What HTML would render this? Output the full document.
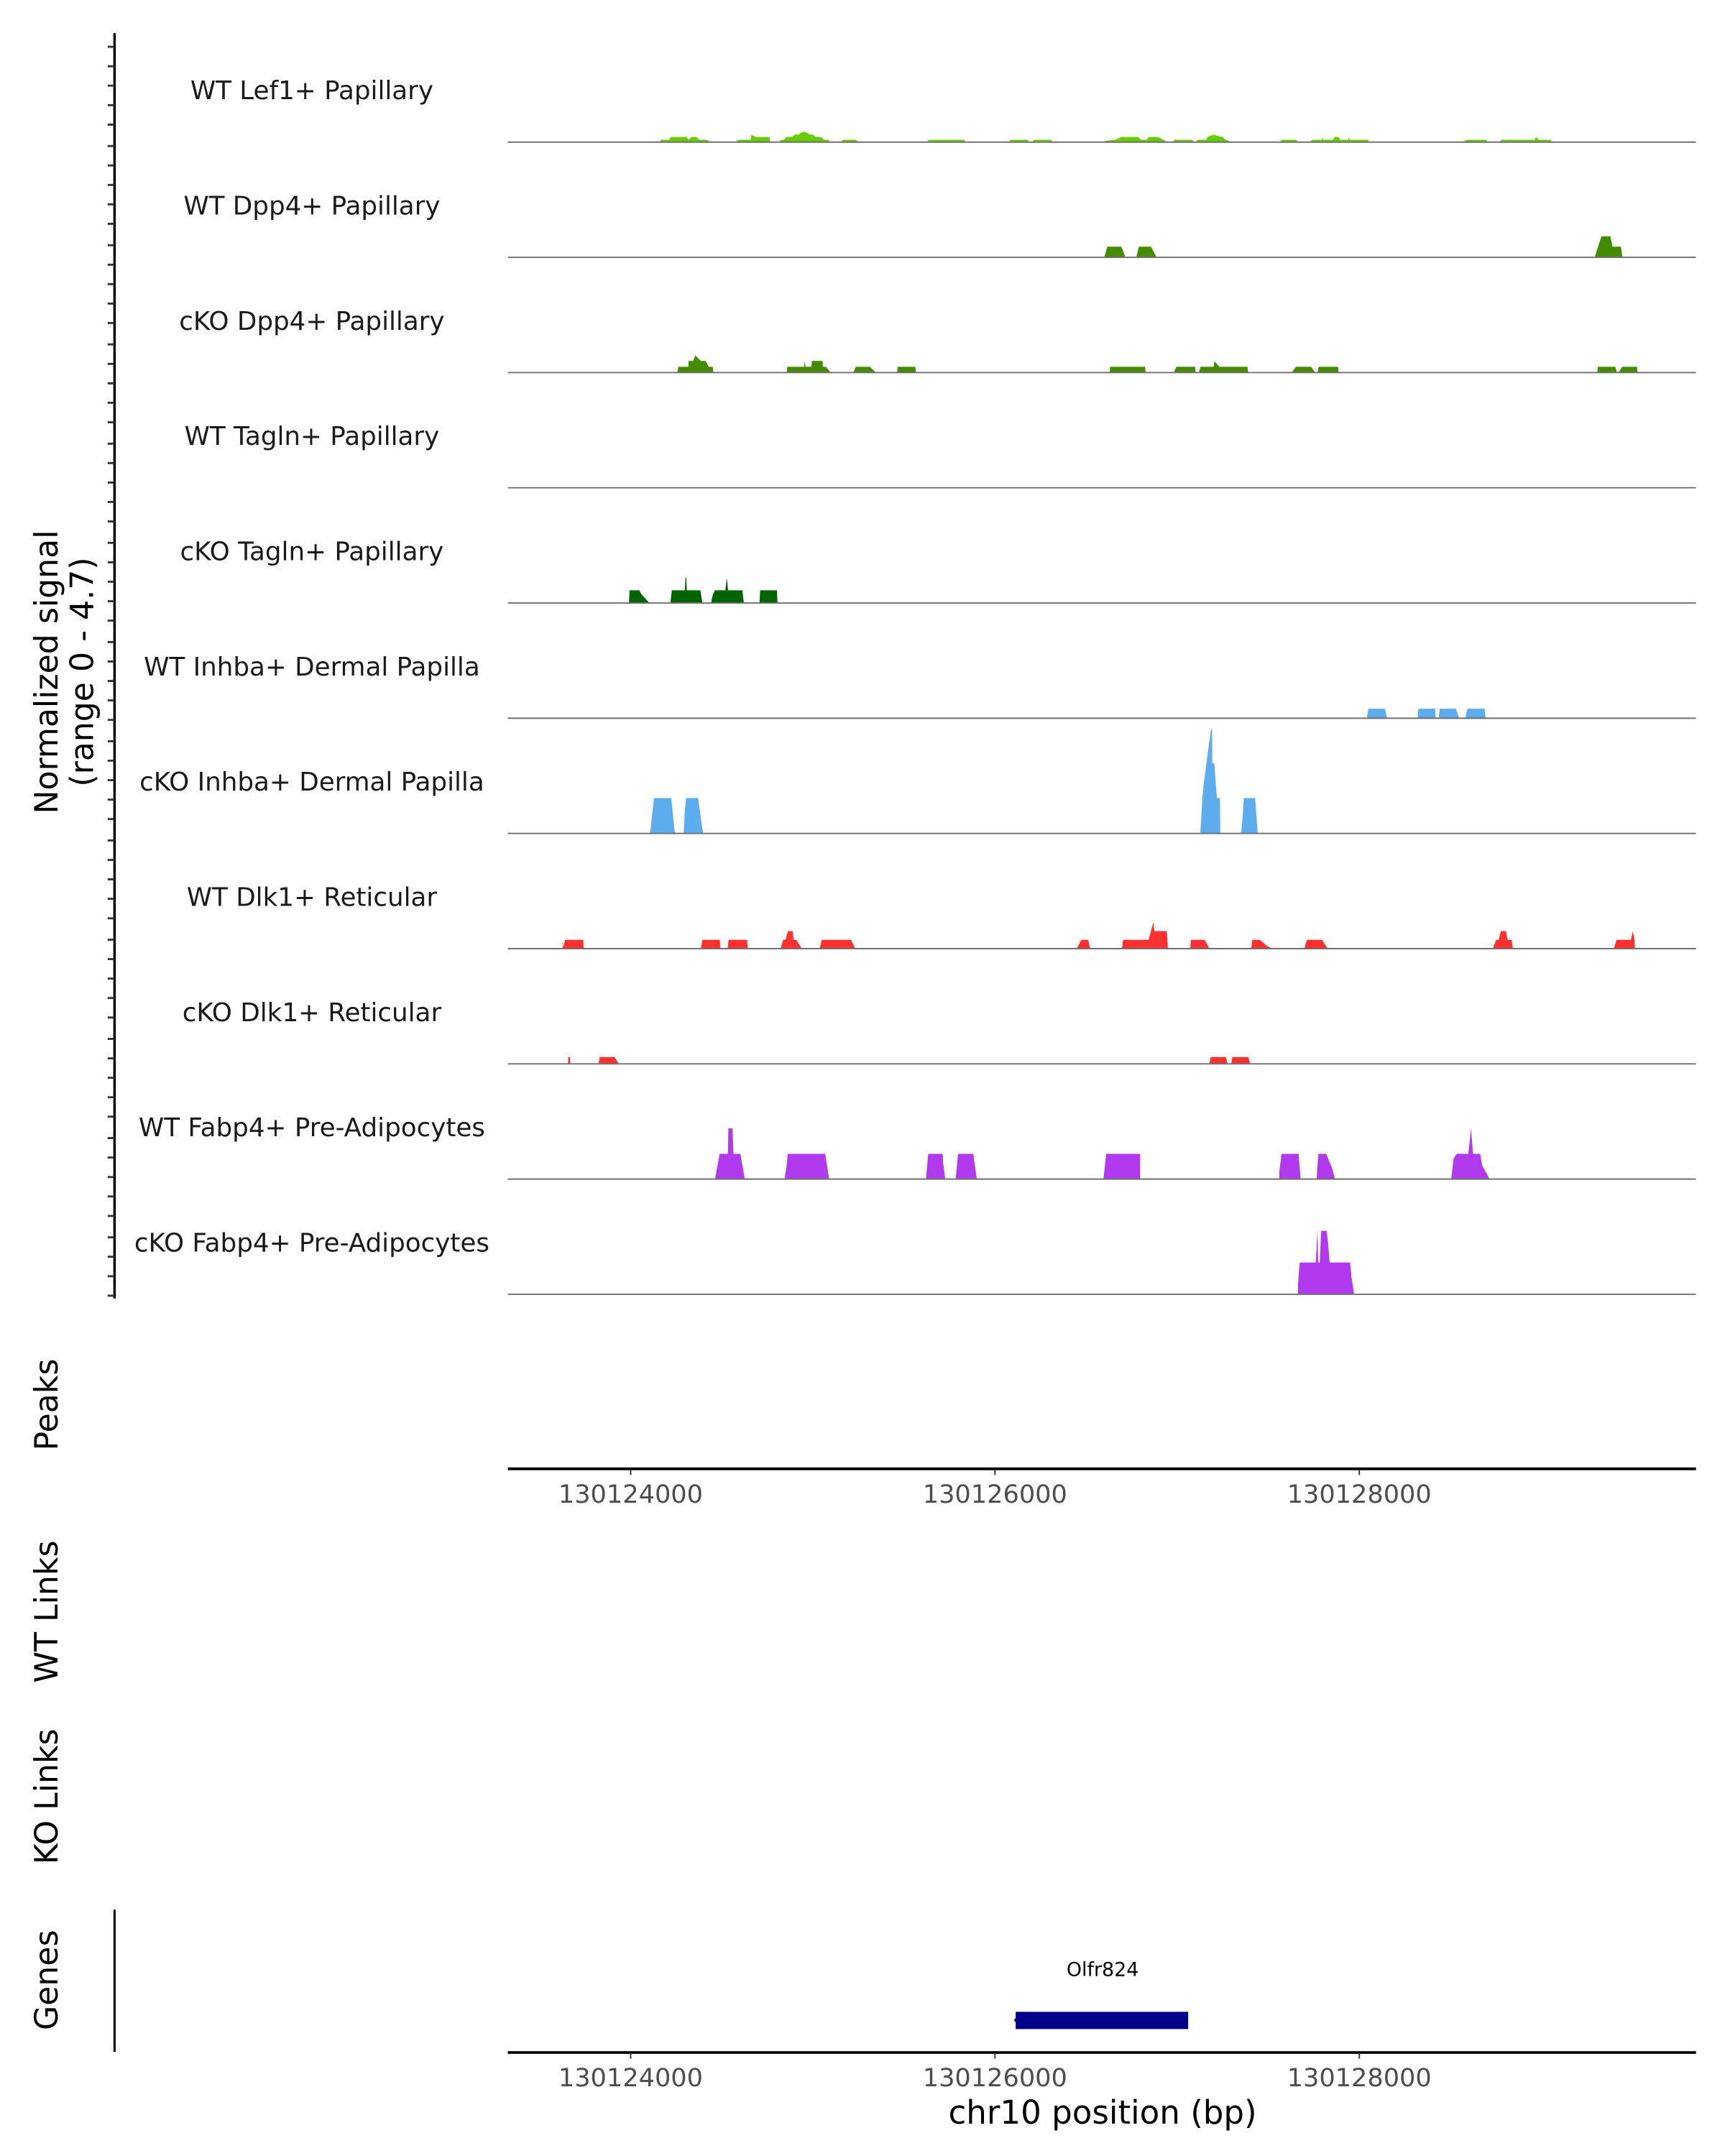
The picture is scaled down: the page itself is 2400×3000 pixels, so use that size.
<!DOCTYPE html>
<html><head><meta charset="utf-8"><style>
html,body{margin:0;padding:0;background:#fff;}
svg{display:block;}
text{font-family:"DejaVu Sans","Liberation Sans",sans-serif;}
</style></head><body>
<svg width="2400" height="3000" viewBox="0 0 1250 1562.5" xmlns="http://www.w3.org/2000/svg">
<rect width="1250" height="1562.5" fill="#fff"/>
<line x1="83" y1="24" x2="83" y2="941" stroke="#000" stroke-width="1.8"/>
<g stroke="#333" stroke-width="1.5">
<path d="M78 33.9H83M78 48H83M78 62.1H83M78 76.2H83M78 90.3H83
M78 105.8H83M78 119.9H83M78 134H83M78 148.1H83M78 162.2H83
M78 177.7H83M78 191.8H83M78 205.9H83M78 220H83M78 234.1H83
M78 249.6H83M78 263.7H83M78 277.8H83M78 291.9H83M78 306H83
M78 321.5H83M78 335.6H83M78 349.7H83M78 363.8H83M78 377.9H83
M78 393.4H83M78 407.5H83M78 421.6H83M78 435.7H83M78 449.8H83
M78 465.3H83M78 479.4H83M78 493.5H83M78 507.6H83M78 521.7H83
M78 537.2H83M78 551.3H83M78 565.4H83M78 579.5H83M78 593.6H83
M78 609.1H83M78 623.2H83M78 637.3H83M78 651.4H83M78 665.5H83
M78 681H83M78 695.1H83M78 709.2H83M78 723.3H83M78 737.4H83
M78 752.9H83M78 767H83M78 781.1H83M78 795.2H83M78 809.3H83
M78 824.8H83M78 838.9H83M78 853H83M78 867.1H83M78 881.2H83
M78 896.7H83M78 910.8H83M78 924.9H83M78 939H83"/>
</g>
<text transform="translate(34,487) rotate(-90)" font-size="23" text-anchor="middle" dominant-baseline="central" fill="#000">Normalized signal</text>
<text transform="translate(60,487) rotate(-90)" font-size="23" text-anchor="middle" dominant-baseline="central" fill="#000">(range 0 - 4.7)</text>

<g font-size="18.6" fill="#1a1a1a" text-anchor="middle">
<text x="226" y="72">WT Lef1+ Papillary</text>
<text x="226" y="155.5">WT Dpp4+ Papillary</text>
<text x="226" y="239">cKO Dpp4+ Papillary</text>
<text x="226" y="322.5">WT Tagln+ Papillary</text>
<text x="226" y="406">cKO Tagln+ Papillary</text>
<text x="226" y="489.5">WT Inhba+ Dermal Papilla</text>
<text x="226" y="573">cKO Inhba+ Dermal Papilla</text>
<text x="226" y="656.5">WT Dlk1+ Reticular</text>
<text x="226" y="740">cKO Dlk1+ Reticular</text>
<text x="226" y="823.5">WT Fabp4+ Pre-Adipocytes</text>
<text x="226" y="907">cKO Fabp4+ Pre-Adipocytes</text>
</g>

<g transform="translate(0,103)" fill="#66cd00">
<polygon points="478,0 479,-1.7 485,-1.7 486,-3.7 497.7,-3.7 499,-1.7 501,-3.7 504.5,-3.7 506.8,-1.7 512,-1.7 515.3,0"/>
<polygon points="533,0 535,-1.7 544,-1.7 544.5,-5.4 547.6,-3.7 557.7,-3.7 558,0"/>
<polygon points="564.5,0 566,-1.7 568,-1.7 570,-3.7 574,-3.7 576,-5.5 579,-5.5 580,-6.5 582.7,-7.7 585,-6.5 587,-5.4 589,-5.4 591,-3.7 595,-3.7 597,-1.7 600,-1.7 602,0"/>
<polygon points="609,0 611,-1.7 620,-1.7 622.3,0"/>
<polygon points="672,0 673,-1.7 698.5,-1.7 700,0"/>
<polygon points="731.6,0 732,-1.7 745,-1.7 745.2,0"/>
<polygon points="747.5,0 749.5,-1.7 762,-1.7 762.2,0"/>
<polygon points="799,0 801,-0.8 808,-1.7 812.6,-3.7 825,-3.7 826.7,-1.7 831,-1.7 832.3,-3.7 839,-3.7 843,-1.7 846,0"/>
<polygon points="850,0 851,-1.7 864,-1.7 865,0"/>
<polygon points="866.4,0 868,-1.7 874,-1.7 875,-3.7 879.5,-5.4 882,-4.5 886,-3.7 888,-1.7 893,0"/>
<polygon points="927,0 929,-1.7 939,-1.7 941,0"/>
<polygon points="948.6,0 951,-1.7 958,-1.7 958.5,-3.7 959,-1.7 966,-1.7 967,-3.7 970,-3.7 971,-1.7 977,-1.7 977.5,-3.7 978,-1.7 991.6,-1.7 991.6,0"/>
<polygon points="1059.6,0 1063,-1.7 1077,-1.7 1077.7,0"/>
<polygon points="1086.8,0 1088,-1.7 1112,-1.7 1113,-3.7 1115,-1.7 1124.2,-1.7 1124.2,0"/>
</g>
<g transform="translate(0,186.5)" fill="#458b00">
<polygon points="800.2,0 802.4,-7.7 812.6,-7.7 815.5,0"/>
<polygon points="823.4,0 825.2,-7.7 834.1,-7.7 838.1,0"/>
<polygon points="1155.8,0 1156.2,-2 1158,-7.7 1160.5,-15.3 1167,-15.3 1168.5,-7.7 1174.6,-7.7 1175.7,0"/>
</g>
<g transform="translate(0,270)" fill="#458b00">
<polygon points="490.9,0 491.5,-4.2 498.8,-4.2 499,-8.4 502.2,-8.4 503.9,-12.4 507.9,-8.4 511.3,-8.4 513.6,-4.2 516.5,-4.2 517,0"/>
<polygon points="570.2,0 570.4,-4.2 582.7,-4.2 583.2,-8.4 583.7,-4.2 588,-4.2 588.3,-8.4 596,-8.4 596.3,-4.2 598.5,-4.2 601.9,0"/>
<polygon points="618.4,0 620.1,-4.2 630.3,-4.2 634.8,0"/>
<polygon points="650.1,0 650.5,-4.2 663.3,-4.2 663.7,0"/>
<polygon points="804.1,0 804.5,-4.2 829.8,-4.2 830.2,0"/>
<polygon points="850.6,0 852.5,-4.2 866,-4.2 866.4,0"/>
<polygon points="868.7,0 870,-4.2 879.5,-4.2 880,-8.4 883.5,-4.2 904,-4.2 904.4,0"/>
<polygon points="936.1,0 939,-4.2 950,-4.2 953.1,0"/>
<polygon points="954.8,0 955.5,-4.2 969.5,-4.2 970.1,0"/>
<polygon points="1157.5,0 1157.8,-4.2 1170.5,-4.2 1171.7,0"/>
<polygon points="1172.8,0 1175.5,-4.2 1186.3,-4.2 1186.5,0"/>
</g>
<g transform="translate(0,437)" fill="#006400">
<polygon points="455.8,0 456.2,-9.2 463.2,-9.2 465,-6 467,-4 470.5,0"/>
<polygon points="485.8,0 486.8,-9.2 496.3,-9.2 496.7,-18.3 497.3,-18.3 497.7,-9.2 507.5,-9.2 509,0"/>
<polygon points="515.3,0 516.5,-6 518.1,-9.2 525.6,-9.2 526.6,-18.3 527.6,-9.2 538,-9.2 539,0"/>
<polygon points="550.4,0 550.8,-9.2 563,-9.2 563.4,0"/>
</g>
<g transform="translate(0,520.5)" fill="#5cacee">
<polygon points="990.5,0 991.6,-6.9 1003.5,-6.9 1005.2,0"/>
<polygon points="1027.3,0 1027.8,-6.9 1040,-6.9 1040.3,0"/>
<polygon points="1042.6,0 1043.2,-6.9 1055,-6.9 1057.3,0"/>
<polygon points="1061.8,0 1063.4,-6.9 1075.8,-6.9 1076.6,0"/>
</g>
<g transform="translate(0,604)" fill="#5cacee">
<polygon points="471.1,0 473.9,-25.6 486.4,-25.6 488.8,-2 489.8,0"/>
<polygon points="495.4,0 496.2,-15 497.1,-25.6 505.8,-25.6 508.6,-6 509.6,0"/>
<polygon points="869.8,0 871.3,-25.6 872.1,-34.6 874.2,-50.8 875.8,-62.6 877.6,-75.7 878.3,-75.7 878.5,-50.8 879.9,-50.8 881.8,-25.6 884,-25.6 884.3,0"/>
<polygon points="899.3,0 900.2,-8 901.3,-25.6 909.5,-25.6 911.4,0"/>
</g>
<g transform="translate(0,687.5)" fill="#ff3030">
<polygon points="407.6,0 407.8,-6.4 408.2,-1 409.5,-6.4 422.7,-6.4 422.9,0"/>
<polygon points="507.9,0 509,-6.4 521.6,-6.4 522,0"/>
<polygon points="527.2,0 528,-6.4 541.4,-6.4 541.9,0"/>
<polygon points="565.7,0 567.5,-6.4 569.2,-6.4 571,-12.7 574.3,-12.7 575.2,-6.4 577,-6.4 581,0"/>
<polygon points="594,0 595.5,-6.4 616.7,-6.4 619.7,0"/>
<polygon points="780.3,0 783.5,-6.4 788.5,-6.4 790,0"/>
<polygon points="813,0 813.8,-6.4 832.3,-6.4 835.8,-19.1 836.5,-12.7 845.5,-12.7 846,-6.4 846.3,0"/>
<polygon points="862.5,0 863,-6.4 873,-6.4 876.4,0"/>
<polygon points="906.6,0 907.5,-6.4 913,-6.4 918,-2 922,0"/>
<polygon points="945.2,0 947,-6.4 958,-6.4 962,0"/>
<polygon points="1081.7,0 1084.2,-6.4 1086,-6.4 1087.6,-12.7 1091.4,-12.7 1092.4,-6.4 1095.4,-6.4 1096.3,0"/>
<polygon points="1169.4,0 1171.5,-6.4 1181.8,-6.4 1183.2,-12.7 1184.4,-6.4 1184.7,0"/>
</g>
<g transform="translate(0,771)" fill="#ff3030">
<polygon points="411.6,0 411.8,-4.9 413,-4.9 413.2,0"/>
<polygon points="433.7,0 434.6,-4.9 445.4,-4.9 448.4,0"/>
<polygon points="876.3,0 877.3,-4.9 888.4,-4.9 889.5,0"/>
<polygon points="892.2,0 893,-4.9 904.5,-4.9 906,0"/>
</g>
<g transform="translate(0,854.5)" fill="#b23aee">
<polygon points="518.1,0 521.5,-18.3 527.5,-18.3 527.8,-36.7 530.8,-36.7 531.5,-18.3 536.5,-18.3 539.7,0"/>
<polygon points="568.5,0 570.2,-11.1 570.8,-18.3 598,-18.3 600.8,0"/>
<polygon points="671,0 672.6,-18.3 683,-18.3 683.5,-11.1 685,0"/>
<polygon points="692.5,0 694.2,-18.3 705.3,-18.3 707.8,0"/>
<polygon points="799.6,0 801.6,-18.3 826.2,-18.3 826.2,0"/>
<polygon points="927,0 927,-5 928.7,-18.3 941,-18.3 942.5,0"/>
<polygon points="954.2,0 954.3,-4 955.3,-18.3 961,-18.3 965.6,-7 967.4,0"/>
<polygon points="1051.6,0 1053.3,-14.7 1055.6,-18.3 1064,-18.3 1066,-36.7 1067.4,-18.3 1072.6,-18.3 1074,-10 1079.4,0"/>
</g>
<g transform="translate(0,938)" fill="#b23aee">
<polygon points="940.6,0 940.6,-7.7 941.8,-23 953.5,-23 954.6,-46 955.2,-23 956.3,-23 957.4,-46 961.3,-46 962.4,-37 963.5,-23 978.3,-23 979.4,-12 980.5,-5 981.2,0"/>
</g>

<g stroke="#707070" stroke-width="1">
<line x1="368" y1="103" x2="1229" y2="103"/>
<line x1="368" y1="186.5" x2="1229" y2="186.5"/>
<line x1="368" y1="270" x2="1229" y2="270"/>
<line x1="368" y1="353.5" x2="1229" y2="353.5"/>
<line x1="368" y1="437" x2="1229" y2="437"/>
<line x1="368" y1="520.5" x2="1229" y2="520.5"/>
<line x1="368" y1="604" x2="1229" y2="604"/>
<line x1="368" y1="687.5" x2="1229" y2="687.5"/>
<line x1="368" y1="771" x2="1229" y2="771"/>
<line x1="368" y1="854.5" x2="1229" y2="854.5"/>
<line x1="368" y1="938" x2="1229" y2="938"/>
</g>

<text transform="translate(34,1018) rotate(-90)" font-size="23" text-anchor="middle" dominant-baseline="central" fill="#000">Peaks</text>
<line x1="368" y1="1064.5" x2="1229" y2="1064.5" stroke="#000" stroke-width="2"/>
<g stroke="#333" stroke-width="1"><path d="M457 1065V1069M721 1065V1069M985 1065V1069"/></g>
<g font-size="18.3" fill="#4d4d4d" text-anchor="middle">
<text x="457" y="1089">130124000</text>
<text x="721" y="1089">130126000</text>
<text x="985" y="1089">130128000</text>
</g>

<text transform="translate(34,1168) rotate(-90)" font-size="23" text-anchor="middle" dominant-baseline="central" fill="#000">WT Links</text>
<text transform="translate(34,1302) rotate(-90)" font-size="23" text-anchor="middle" dominant-baseline="central" fill="#000">KO Links</text>
<text transform="translate(34,1435) rotate(-90)" font-size="23" text-anchor="middle" dominant-baseline="central" fill="#000">Genes</text>
<line x1="83" y1="1384" x2="83" y2="1487" stroke="#000" stroke-width="1.6"/>

<text x="799" y="1432" font-size="14" text-anchor="middle" fill="#000">Olfr824</text>
<rect x="736" y="1458" width="125" height="12.5" fill="#00008b"/>
<circle cx="736.5" cy="1464" r="1.5" fill="#00008b"/>

<line x1="368" y1="1487.5" x2="1229" y2="1487.5" stroke="#000" stroke-width="2"/>
<g stroke="#333" stroke-width="1"><path d="M457 1488V1492M721 1488V1492M985 1488V1492"/></g>
<g font-size="18.3" fill="#4d4d4d" text-anchor="middle">
<text x="457" y="1512">130124000</text>
<text x="721" y="1512">130126000</text>
<text x="985" y="1512">130128000</text>
</g>
<text x="799" y="1539" font-size="23.5" text-anchor="middle" fill="#000">chr10 position (bp)</text>
</svg>
</body></html>
